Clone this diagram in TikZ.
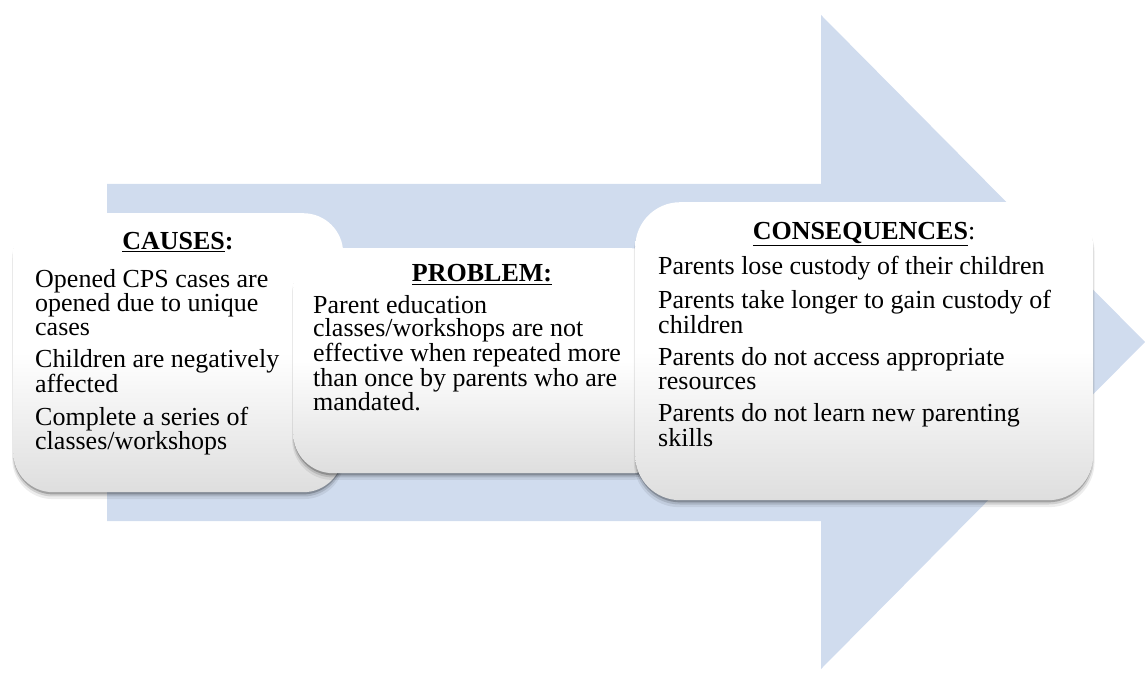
\documentclass[tikz,border=0pt]{standalone}
\usepackage{fontspec}
\setmainfont{Liberation Serif}
\usetikzlibrary{shadows}
\definecolor{arrowblue}{RGB}{208,220,238}
\definecolor{cardgray}{RGB}{222,222,222}
\begin{document}
\begin{tikzpicture}[x=1pt,y=-1pt,
  softshadow/.style={
    general shadow={fill=black, opacity=0.07, shadow yshift=-6pt, shadow scale=1.006},
    general shadow={fill=black, opacity=0.12, shadow yshift=-4pt, shadow scale=1.002},
    general shadow={fill=black, opacity=0.22, shadow yshift=-2.5pt, shadow scale=0.998}},
  card/.style={softshadow, rounded corners=40pt, top color=white, bottom color=cardgray,
    middle color=white, draw=none, inner sep=0pt, anchor=north west},
  bodytext/.style={font=\fontsize{26}{23.5}\selectfont, align=left, inner sep=0pt, anchor=north west},
  titletext/.style={font=\fontsize{26}{23.5}\selectfont\bfseries, inner sep=0pt, anchor=base}]
\useasboundingbox (0,0) rectangle (1145,684);
% big arrow
\fill[arrowblue] (107,184) -- (821,184) -- (821,15) -- (1145,342) -- (821,669) -- (821,521) -- (107,521) -- cycle;
% cards
\node[card, minimum width=330pt, minimum height=279pt] (b1) at (13,213) {};
\node[card, minimum width=378pt, minimum height=225pt] (b2) at (293,248) {};
\node[card, rounded corners=45pt, minimum width=458pt, minimum height=298pt] (b3) at (635,202) {};
% titles
\node[titletext] (h1) at (178,250) {\underline{CAUSES}:};
\node[titletext] (h2) at (482,282) {\underline{PROBLEM:}};
\node[titletext] (h3) at (864,240) {\underline{CONSEQUENCES}\mdseries:};
% texts
\node[bodytext] (t1) at (35,269) {Opened CPS cases are\\opened due to unique\\cases\\[9pt]Children are negatively\\affected\\[9pt]Complete a series of\\classes/workshops};
\node[bodytext] (t2) at (313,295) {Parent education\\classes/workshops are not\\effective when repeated more\\than once by parents who are\\mandated.};
\node[bodytext] (t3) at (658,256) {Parents lose custody of their children\\[9pt]Parents take longer to gain custody of\\children\\[9pt]Parents do not access appropriate\\resources\\[9pt]Parents do not learn new parenting\\skills};
\end{tikzpicture}
\end{document}
